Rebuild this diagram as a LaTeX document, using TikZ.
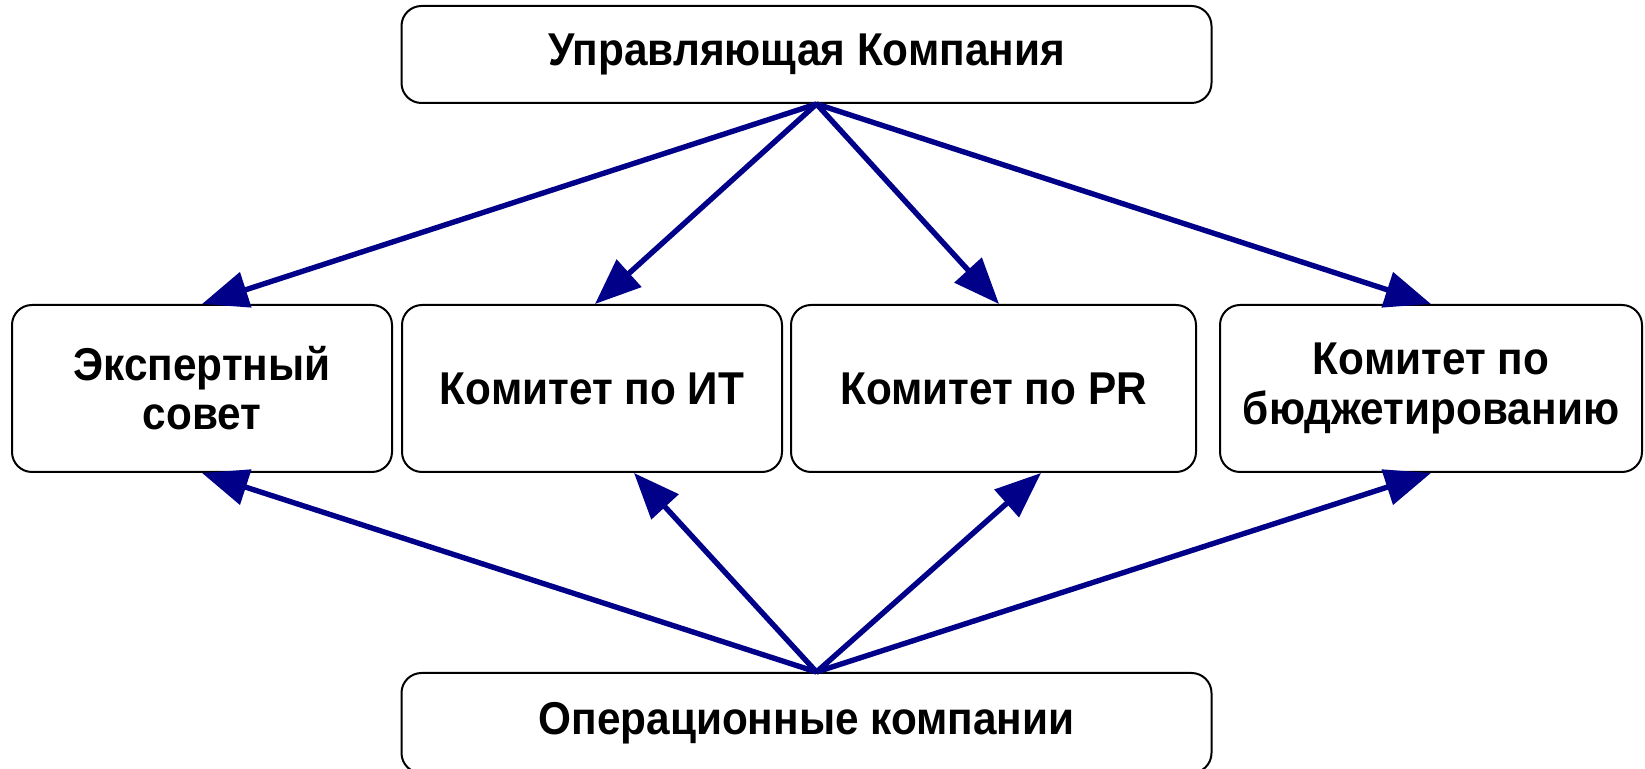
\documentclass[tikz,border=0pt]{standalone}
\usepackage{fontspec}
\setmainfont{Liberation Sans}[FakeStretch=0.92]
\usepackage{tikz}
\usetikzlibrary{arrows.meta}
\definecolor{ArrowBlue}{HTML}{000088}
\definecolor{NiceBlack}{HTML}{000000}
\tikzset{
  unit/.style={draw=NiceBlack, line width=1pt, rounded corners=10pt,
    align=center, inner sep=2pt,
    font=\fontsize{23}{24.6}\selectfont\bfseries},
  link/.style={ArrowBlue, line width=2.7pt,
    -{Triangle[length=23pt, width=18pt]}}
}

\begin{document}
\begin{tikzpicture}[x=0.5pt, y=-0.5pt]
    \useasboundingbox (0,0) rectangle (1645,769);
    % Boxes
    \node[unit, minimum width=405pt, minimum height=48.5pt] (upr) at (806.5,54.5)
    {Управляющая Компания};
    \node[unit, minimum width=190pt, minimum height=83.5pt] (sovet) at (202,388.5)
    {Экспертный\\совет};
    \node[unit, minimum width=190pt, minimum height=83.5pt] (it) at (592,388.5)
    {Комитет по ИТ};
    \node[unit, minimum width=202.5pt, minimum height=83.5pt] (pr) at (993.5,388.5)
    {Комитет по PR};
    \node[unit, minimum width=211pt, minimum height=83.5pt] (budget) at (1431,388.5)
    {Комитет по\\бюджетированию};
    \node[unit, minimum width=405pt, minimum height=50pt] (oper) at (806.5,723)
    {Операционные компании};
    % hubs
    \coordinate (hubtop) at ([xshift=5pt]upr.south);
    \coordinate (hubbot) at ([xshift=5pt]oper.north);
    % Arrows down
    \draw[link] (hubtop) -- (sovet.north);
    \draw[link] (hubtop) -- ([xshift=1.5pt]it.north);
    \draw[link] (hubtop) -- ([xshift=2.75pt]pr.north);
    \draw[link] (hubtop) -- (budget.north);
    % Arrows up
    \draw[link] (hubbot) -- (sovet.south);
    \draw[link] (hubbot) -- ([xshift=21pt]it.south);
    \draw[link] (hubbot) -- ([xshift=23.75pt]pr.south);
    \draw[link] (hubbot) -- (budget.south);
\end{tikzpicture}
\end{document}
